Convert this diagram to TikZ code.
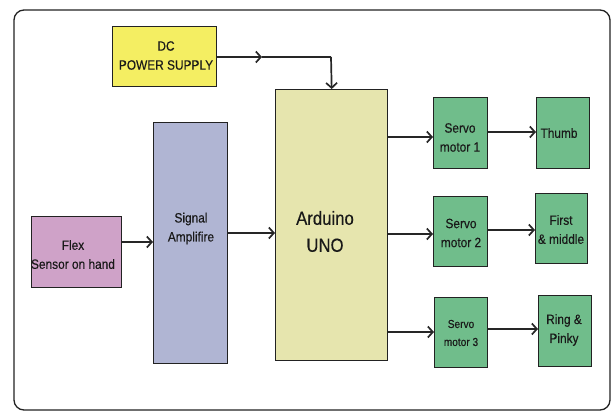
\documentclass[tikz,border=0pt]{standalone}
\usepackage{fontspec}
\setmainfont{Liberation Sans}[FakeStretch=0.88,FakeBold=0.3]
\usetikzlibrary{arrows.meta}
\definecolor{dcyellow}{HTML}{F4EE62}
\definecolor{sigblue}{HTML}{B0B5D3}
\definecolor{ardyellow}{HTML}{E6E5AE}
\definecolor{flexpink}{HTML}{CFA2C8}
\definecolor{servogreen}{HTML}{70BD8B}
\definecolor{edge}{HTML}{222222}
\tikzset{
  blk/.style={draw=edge, line width=1.4pt, inner sep=0pt, anchor=north west},
  lbl/.style={align=center, font=\fontsize{13.5}{19}\selectfont, inner sep=0pt, text=black!90},
  arr/.style={draw=black!85, line width=1.7pt, -{Straight Barb[length=5pt,width=11pt,line width=1.7pt]}},
  ln/.style={draw=black!85, line width=1.7pt},
}
\begin{document}
\begin{tikzpicture}[x=1pt,y=-1pt]
\useasboundingbox (0,0) rectangle (613,412);
\draw[edge, line width=1.3pt, rounded corners=10pt] (14,10) rectangle (610,410);
% boxes
\node[blk, fill=dcyellow, minimum width=104pt, minimum height=60pt] (dc) at (112,26) {};
\node[blk, fill=sigblue, minimum width=74pt, minimum height=241pt] (sig) at (153,122) {};
\node[blk, fill=ardyellow, minimum width=112pt, minimum height=271pt] (ard) at (275,89) {};
\node[blk, fill=flexpink, minimum width=90pt, minimum height=71pt] (flex) at (31,216) {};
\node[blk, fill=servogreen, minimum width=54pt, minimum height=71pt] (s1) at (433,97) {};
\node[blk, fill=servogreen, minimum width=54pt, minimum height=70pt] (s2) at (433,196) {};
\node[blk, fill=servogreen, minimum width=53pt, minimum height=70pt] (s3) at (434,297) {};
\node[blk, fill=servogreen, minimum width=53pt, minimum height=71pt] (f1) at (536,97) {};
\node[blk, fill=servogreen, minimum width=52pt, minimum height=70pt] (f2) at (535,193) {};
\node[blk, fill=servogreen, minimum width=53pt, minimum height=71pt] (f3) at (538,295) {};
% labels
\node[lbl] (tdc) at (166,55.5) {DC\\POWER SUPPLY};
\node[lbl] (tsig) at (191,228.5) {Signal\\Amplifire};
\node[lbl, font=\fontsize{19}{27}\selectfont] (tard) at (325,231.5) {Arduino\\UNO};
\node[lbl] (tflex) at (73,254.5) {Flex\\Sensor on hand};
\node[lbl] (ts1) at (460,137.5) {Servo\\motor 1};
\node[lbl] (ts2) at (461,233) {Servo\\motor 2};
\node[lbl, font=\fontsize{11.5}{18}\selectfont] (ts3) at (461,333) {Servo\\motor 3};
\node[lbl] (tf1) at (559,133) {Thumb};
\node[lbl] (tf2) at (561,229.5) {First\\\& middle};
\node[lbl] (tf3) at (564,330) {Ring \&\\Pinky};
% connectors
\coordinate (dcmid) at (262,57);
\coordinate (dccorner) at (331,57);
\draw[arr] (dc.east |- dcmid) -- (dcmid);
\draw[ln] (dcmid) -- (dccorner);
\draw[arr] (dccorner) -- (ard.north);
\draw[arr] (flex.east |- 0,242) -- (sig.west |- 0,242);
\draw[arr] (sig.east |- 0,233) -- (ard.west |- 0,233);
\draw[arr] (ard.east |- 0,137) -- (s1.west |- 0,137);
\draw[arr] (ard.east |- 0,234) -- (s2.west |- 0,234);
\draw[arr] (ard.east |- 0,332) -- (s3.west |- 0,332);
\draw[arr] (s1.east |- 0,132) -- (f1.west |- 0,132);
\draw[arr] (s2.east |- 0,230) -- (f2.west |- 0,230);
\draw[arr] (s3.east |- 0,329) -- (f3.west |- 0,329);
\end{tikzpicture}
\end{document}
